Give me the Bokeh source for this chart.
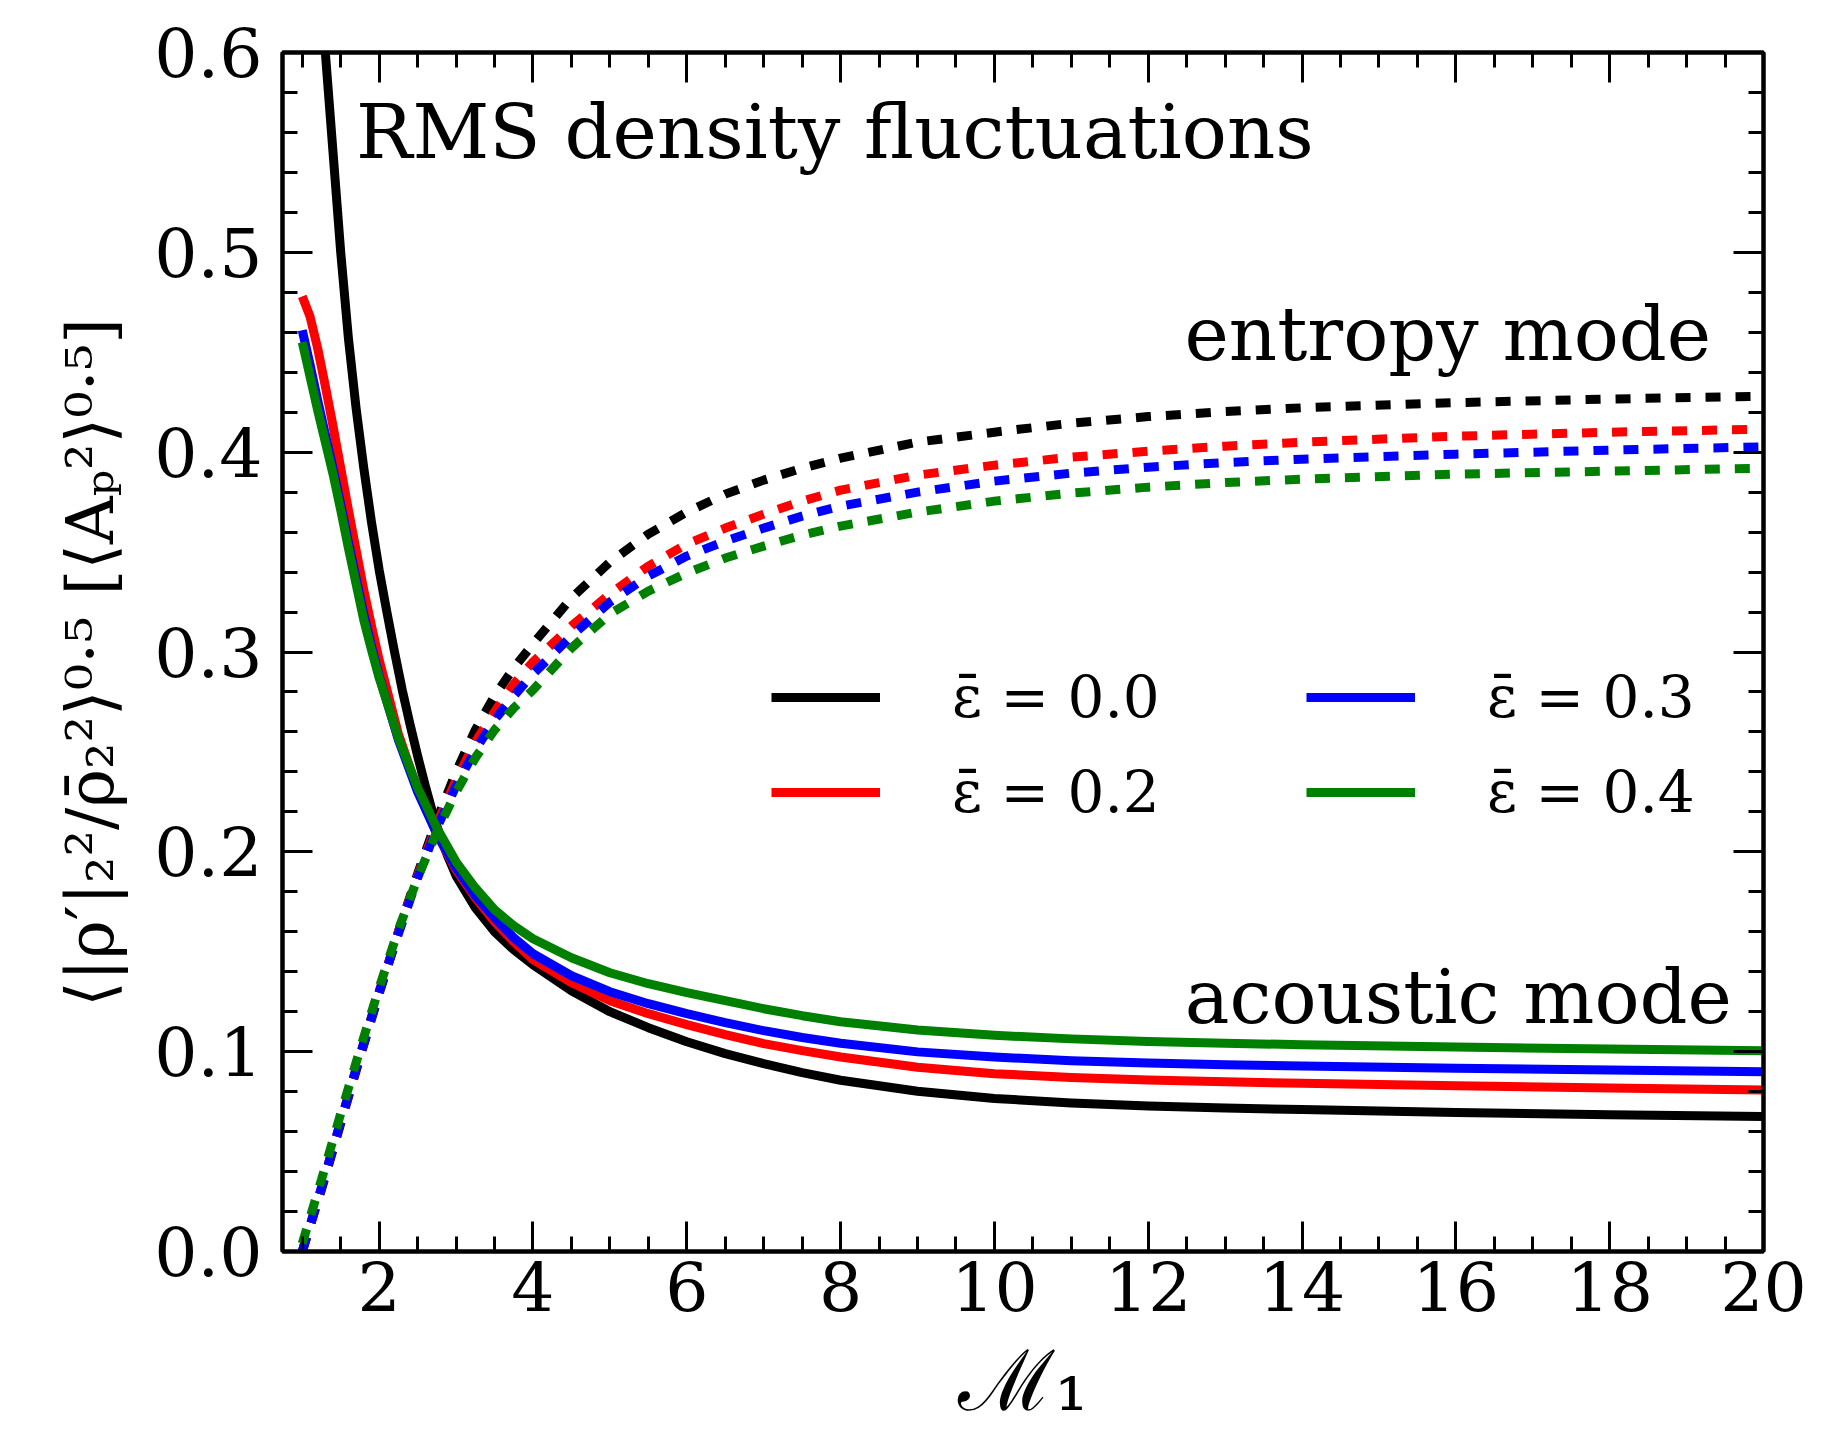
from bokeh.plotting import figure
from bokeh.models import (Range1d, LinearAxis, FixedTicker, Label, Legend, LegendItem,
                          CustomJSTickFormatter, PrintfTickFormatter)
from bokeh.embed import file_html
from bokeh.resources import INLINE

# ---------------- data ----------------
eps_labels = ["ε̄ = 0.0", "ε̄ = 0.2", "ε̄ = 0.3", "ε̄ = 0.4"]
colors = ["black", "red", "blue", "green"]

# acoustic mode (solid)
mach_ac_black = [1.2, 1.3, 1.4, 1.5, 1.6, 1.7, 1.8, 1.9, 2.0, 2.1, 2.2, 2.3, 2.4, 2.5, 2.6,
                 2.7, 2.8, 2.9, 3.0, 3.25, 3.5, 3.75, 4.0, 4.5, 5.0, 5.5, 6.0, 6.5, 7.0, 7.5,
                 8.0, 9.0, 10.0, 11.0, 12.0, 13.0, 14.0, 16.0, 18.0, 20.0]
ac_eps00 = [0.66, 0.60, 0.55, 0.50, 0.457, 0.422, 0.392, 0.365, 0.341, 0.320, 0.300, 0.281,
            0.264, 0.248, 0.233, 0.219, 0.207, 0.197, 0.188, 0.172, 0.160, 0.151, 0.1435,
            0.1305, 0.120, 0.112, 0.105, 0.099, 0.094, 0.0895, 0.0857, 0.0802, 0.0766,
            0.0743, 0.0728, 0.0718, 0.0710, 0.0695, 0.0684, 0.0675]

mach_ac = [1.0, 1.1, 1.2, 1.3, 1.4, 1.5, 1.6, 1.7, 1.8, 1.9, 2.0, 2.25, 2.5, 2.75, 3.0, 3.25,
           3.5, 3.75, 4.0, 4.5, 5.0, 5.5, 6.0, 6.5, 7.0, 7.5, 8.0, 9.0, 10.0, 11.0, 12.0,
           13.0, 14.0, 16.0, 18.0, 20.0]
ac_eps02 = [0.478, 0.468, 0.452, 0.433, 0.413, 0.392, 0.371, 0.351, 0.331, 0.313, 0.296,
            0.259, 0.231, 0.209, 0.191, 0.177, 0.165, 0.155, 0.146, 0.1345, 0.1255, 0.119,
            0.1135, 0.1085, 0.1040, 0.1005, 0.0973, 0.0922, 0.0890, 0.0871, 0.0858, 0.0849,
            0.0842, 0.0829, 0.0818, 0.0808]
ac_eps03 = [0.461, 0.444, 0.426, 0.409, 0.392, 0.374, 0.355, 0.337, 0.319, 0.303, 0.288,
            0.256, 0.230, 0.209, 0.192, 0.178, 0.167, 0.157, 0.149, 0.138, 0.130, 0.124,
            0.119, 0.1145, 0.1105, 0.1071, 0.1042, 0.0999, 0.0973, 0.0955, 0.0943, 0.0935,
            0.0928, 0.0917, 0.0908, 0.0900]
ac_eps04 = [0.455, 0.438, 0.421, 0.405, 0.389, 0.371, 0.352, 0.334, 0.316, 0.301, 0.287,
            0.257, 0.232, 0.212, 0.195, 0.182, 0.171, 0.163, 0.1565, 0.147, 0.1395, 0.134,
            0.1296, 0.1255, 0.1215, 0.118, 0.115, 0.1108, 0.1082, 0.1064, 0.1051, 0.1042,
            0.1035, 0.1023, 0.1013, 0.1005]

# entropy mode (dotted)
mach_en = [1.0, 1.25, 1.5, 1.75, 2.0, 2.25, 2.5, 2.75, 3.0, 3.25, 3.5, 3.75, 4.0, 4.5, 5.0,
           5.5, 6.0, 6.5, 7.0, 7.5, 8.0, 9.0, 10.0, 11.0, 12.0, 13.0, 14.0, 16.0, 18.0, 20.0]
en_eps00 = [0.0, 0.031, 0.064, 0.097, 0.129, 0.160, 0.189, 0.216, 0.240, 0.261, 0.278, 0.292,
            0.304, 0.327, 0.345, 0.359, 0.370, 0.379, 0.386, 0.392, 0.397, 0.405, 0.410,
            0.4145, 0.4178, 0.4203, 0.4222, 0.4248, 0.4266, 0.428]
en_eps02 = [0.0, 0.032, 0.065, 0.098, 0.130, 0.160, 0.188, 0.214, 0.236, 0.255, 0.270, 0.284,
            0.295, 0.313, 0.329, 0.343, 0.354, 0.362, 0.369, 0.3755, 0.381, 0.3885, 0.3935,
            0.3975, 0.4005, 0.4030, 0.4050, 0.408, 0.410, 0.4115]
en_eps03 = [0.0, 0.032, 0.065, 0.098, 0.130, 0.159, 0.187, 0.212, 0.233, 0.251, 0.266, 0.278,
            0.289, 0.308, 0.325, 0.338, 0.348, 0.3555, 0.362, 0.368, 0.373, 0.380, 0.3855,
            0.3895, 0.3925, 0.3948, 0.3965, 0.399, 0.401, 0.4027]
en_eps04 = [0.004, 0.036, 0.069, 0.101, 0.132, 0.161, 0.187, 0.210, 0.230, 0.247, 0.261,
            0.272, 0.281, 0.302, 0.319, 0.3305, 0.3395, 0.347, 0.353, 0.3585, 0.363, 0.370,
            0.3755, 0.3795, 0.3825, 0.3848, 0.3865, 0.389, 0.3905, 0.392]

x_major = [2, 4, 6, 8, 10, 12, 14, 16, 18, 20]
x_minor = [1.0 + 0.5 * i for i in range(39)]
y_major = [0.0, 0.1, 0.2, 0.3, 0.4, 0.5, 0.6]
y_minor = [0.02 * i for i in range(31)]

FONT = "DejaVu Serif"

p = figure(width=1808, height=1436, output_backend="svg", toolbar_location=None,
           x_range=Range1d(0.743, 20.0), y_range=Range1d(0.0, 0.6),
           min_border_left=282, min_border_right=45, min_border_top=52, min_border_bottom=185)
p.xgrid.visible = False
p.ygrid.visible = False
p.outline_line_color = "black"
p.outline_line_width = 4
p.background_fill_color = "white"
p.border_fill_color = "white"

ac_x = [mach_ac_black, mach_ac, mach_ac, mach_ac]
ac_y = [ac_eps00, ac_eps02, ac_eps03, ac_eps04]
en_y = [en_eps00, en_eps02, en_eps03, en_eps04]

solid = []
for xs, ys, ye, c in zip(ac_x, ac_y, en_y, colors):
    r = p.line(xs, ys, line_color=c, line_width=9, line_join="round")
    solid.append(r)
    p.line(mach_en, ye, line_color=c, line_width=9, line_dash="15 15", line_cap="butt")


def style_axis(ax, show_labels):
    ax.axis_line_width = 4
    ax.axis_line_color = "black"
    ax.major_tick_in = 30
    ax.major_tick_out = 0
    ax.minor_tick_in = 15
    ax.minor_tick_out = 0
    ax.major_tick_line_width = 3
    ax.minor_tick_line_width = 3
    ax.major_label_text_font = FONT
    ax.major_label_text_font_size = "68px"
    ax.major_label_text_color = "black"
    if not show_labels:
        ax.formatter = CustomJSTickFormatter(code="return ''")


xb = p.xaxis[0]
xb.ticker = FixedTicker(ticks=x_major, minor_ticks=x_minor)
style_axis(xb, True)
xb.major_label_standoff = 10
xb.axis_label = "ℳ₁"
xb.axis_label_text_font = FONT
xb.axis_label_text_font_style = "normal"
xb.axis_label_text_font_size = "84px"
xb.axis_label_text_color = "black"
xb.axis_label_standoff = 18

yl = p.yaxis[0]
yl.ticker = FixedTicker(ticks=y_major, minor_ticks=y_minor)
style_axis(yl, True)
yl.formatter = PrintfTickFormatter(format="%.1f")
yl.major_label_standoff = 20
yl.axis_label = "⟨|ρ′|₂²/ρ̄₂²⟩⁰·⁵  [⟨Aₚ²⟩⁰·⁵]"
yl.axis_label_text_font = FONT
yl.axis_label_text_font_style = "normal"
yl.axis_label_text_font_size = "66px"
yl.axis_label_text_color = "black"
yl.axis_label_standoff = 22

xt = LinearAxis(ticker=FixedTicker(ticks=x_major, minor_ticks=x_minor))
style_axis(xt, False)
p.add_layout(xt, "above")
yr = LinearAxis(ticker=FixedTicker(ticks=y_major, minor_ticks=y_minor))
style_axis(yr, False)
p.add_layout(yr, "right")

# annotations
for x, y, t, al in [(1.70, 0.560, "RMS density fluctuations", "left"),
                    (19.32, 0.459, "entropy mode", "right"),
                    (19.59, 0.1275, "acoustic mode", "right")]:
    p.add_layout(Label(x=x, y=y, text=t, text_font=FONT, text_font_size="75px",
                       text_color="black", text_align=al, text_baseline="alphabetic"))


def make_legend(items, loc):
    leg = Legend(items=items, location=loc, orientation="vertical")
    leg.border_line_color = None
    leg.background_fill_alpha = 0
    leg.padding = 0
    leg.margin = 0
    leg.spacing = 27
    leg.glyph_width = 109
    leg.glyph_height = 58
    leg.label_height = 58
    leg.label_standoff = 72
    leg.label_text_font = FONT
    leg.label_text_font_size = "58px"
    leg.label_text_color = "black"
    leg.label_text_baseline = "middle"
    return leg


leg1 = make_legend([LegendItem(label=eps_labels[0], renderers=[solid[0]]),
                    LegendItem(label=eps_labels[1], renderers=[solid[1]])], (489, 425))
leg2 = make_legend([LegendItem(label=eps_labels[2], renderers=[solid[2]]),
                    LegendItem(label=eps_labels[3], renderers=[solid[3]])], (1024, 425))
p.add_layout(leg1)
p.add_layout(leg2)

open("out.html", "w").write(file_html(p, INLINE))
